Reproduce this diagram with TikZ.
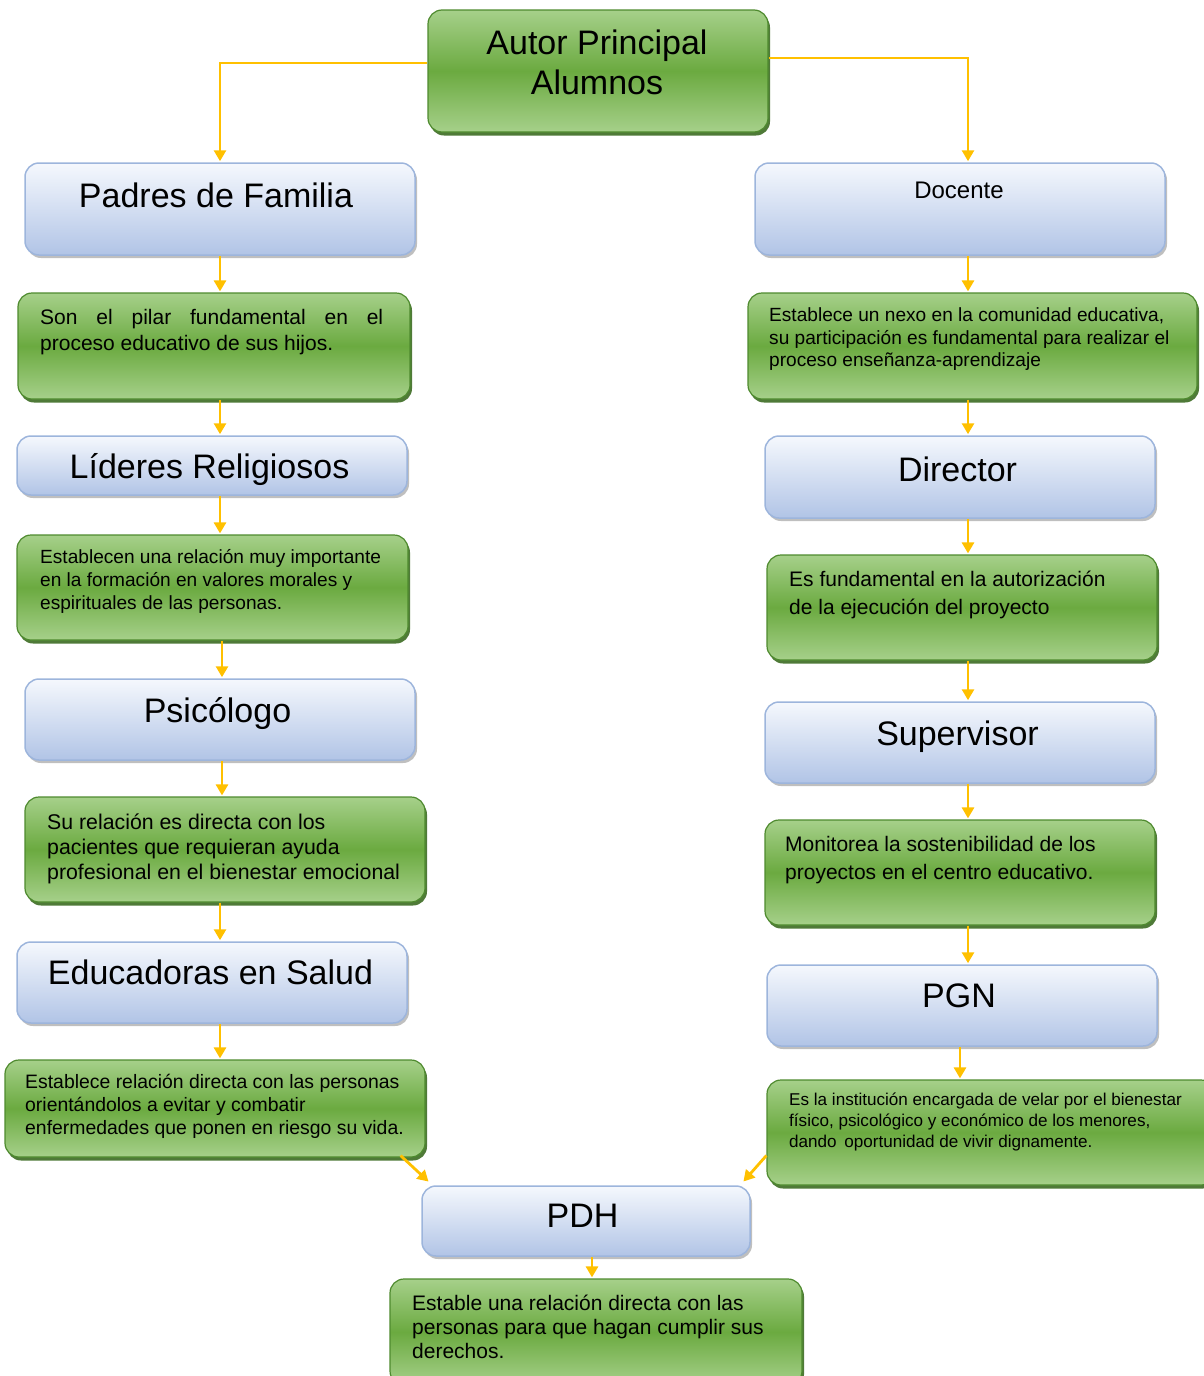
\documentclass[tikz,border=0pt]{standalone}
\usepackage{fontspec}
\setmainfont{Liberation Sans}
\usetikzlibrary{arrows.meta,shadows}
\definecolor{arrowc}{HTML}{FFC000}
\definecolor{bluetop}{HTML}{F5F8FD}
\definecolor{bluebot}{HTML}{B1C4E6}
\definecolor{blueline}{HTML}{9DB5DC}
\definecolor{greentop}{HTML}{A6D08A}
\definecolor{greenmid}{HTML}{6BAA40}
\definecolor{greenline}{HTML}{4E8A2E}
\definecolor{greenshadow}{HTML}{3C6B22}
\tikzset{
  bluebox/.style={rectangle, rounded corners=14pt, draw=blueline, line width=1.5pt,
    top color=bluetop, bottom color=bluebot,
    drop shadow={shadow xshift=2pt, shadow yshift=-3pt, fill=black, opacity=0.25}, inner sep=0pt},
  greenbox/.style={rectangle, rounded corners=14pt, draw=greenline, line width=1.2pt,
    top color=greentop, bottom color=greentop, middle color=greenmid,
    drop shadow={shadow xshift=2pt, shadow yshift=-3.5pt, fill=greenshadow, opacity=0.9}, inner sep=0pt},
  arr/.style={draw=arrowc, line width=2.8pt, -{Triangle[length=11pt,width=12pt]}, shorten >=1pt},
  big/.style={font=\fontsize{34}{40}\selectfont, text height=0.72em, text depth=0.2em, inner sep=0pt},
  body/.style={inner sep=0pt, anchor=north west, align=left},
}
\begin{document}
\begin{tikzpicture}[x=1pt,y=-1pt]
\useasboundingbox (0,0) rectangle (1204,1376);
\clip (0,0) rectangle (1204,1376);
\coordinate (lx) at (220,0);
\coordinate (rx) at (968,0);
% boxes
\node[greenbox, minimum width=340pt, minimum height=122pt] (autor) at (598,71) {};
\node[bluebox, minimum width=390pt, minimum height=92pt] (padres) at (220,209) {};
\node[greenbox, minimum width=392pt, minimum height=106pt] (pgreen) at (214,346) {};
\node[bluebox, minimum width=390pt, minimum height=59pt] (lideres) at (212,465.5) {};
\node[greenbox, minimum width=391pt, minimum height=105pt] (lgreen) at (212.5,587.5) {};
\node[bluebox, minimum width=390pt, minimum height=81pt] (psico) at (220,719.5) {};
\node[greenbox, minimum width=400pt, minimum height=105pt] (psgreen) at (225,849.5) {};
\node[bluebox, minimum width=390pt, minimum height=81pt] (educ) at (212,982.5) {};
\node[greenbox, minimum width=420pt, minimum height=97pt] (egreen) at (215,1108.5) {};
\node[bluebox, minimum width=410pt, minimum height=92pt] (docente) at (960,209) {};
\node[greenbox, minimum width=449pt, minimum height=106pt] (dgreen) at (972.5,346) {};
\node[bluebox, minimum width=390pt, minimum height=82pt] (director) at (960,477) {};
\node[greenbox, minimum width=390pt, minimum height=105pt] (drgreen) at (962,607.5) {};
\node[bluebox, minimum width=390pt, minimum height=81pt] (superv) at (960,742.5) {};
\node[greenbox, minimum width=390pt, minimum height=105pt] (sgreen) at (960,872.5) {};
\node[bluebox, minimum width=390pt, minimum height=81pt] (pgn) at (962,1005.5) {};
\node[greenbox, minimum width=448pt, minimum height=105pt] (pgngreen) at (991,1132.5) {};
\node[bluebox, minimum width=328pt, minimum height=70pt] (pdh) at (586,1221) {};
\node[greenbox, minimum width=412pt, minimum height=106pt] (pdhgreen) at (596,1332) {};
% titles
\node[font=\fontsize{34}{40}\selectfont, align=center, inner sep=0pt] (tautor) at (597,62) {Autor Principal\\Alumnos};
\node[big] (tpadres) at (216,205) {Padres de Familia};
\node[font=\fontsize{24}{28}\selectfont, text height=0.72em, text depth=0.2em, inner sep=0pt] (tdocente) at (959,196) {Docente};
\node[big] (tlideres) at (209.5,476) {Líderes Religiosos};
\node[big] (tdirector) at (957.5,479) {Director};
\node[big] (tpsico) at (217.5,720) {Psicólogo};
\node[big] (tsuperv) at (957.5,743) {Supervisor};
\node[big] (teduc) at (210.5,982) {Educadoras en Salud};
\node[big] (tpgn) at (959,1005) {PGN};
\node[big] (tpdh) at (582.5,1225) {PDH};
% body texts
\node[body, font=\fontsize{21}{26}\selectfont] (bpadres) at (40,309) {\makebox[343pt][s]{Son el pilar fundamental en el}\\proceso educativo de sus hijos.};
\node[body, font=\fontsize{19.1}{23}\selectfont] (blideres) at (40,549.5) {Establecen una relación muy importante\\en la formación en valores morales y\\espirituales de las personas.};
\node[body, font=\fontsize{21.3}{25}\selectfont] (bpsico) at (47,814) {Su relación es directa con los\\pacientes que requieran ayuda\\profesional en el bienestar emocional};
\node[body, font=\fontsize{19.4}{22.5}\selectfont] (beduc) at (25,1074.5) {Establece relación directa con las personas\\orientándolos a evitar y combatir\\enfermedades que ponen en riesgo su vida.};
\node[body, font=\fontsize{19.1}{22.5}\selectfont] (bdocente) at (769,307.5) {Establece un nexo en la comunidad educativa,\\su participación es fundamental para realizar el\\proceso enseñanza-aprendizaje};
\node[body, font=\fontsize{21}{28}\selectfont] (bdirector) at (789,571) {Es fundamental en la autorización\\de la ejecución del proyecto};
\node[body, font=\fontsize{21}{28}\selectfont] (bsuperv) at (785,836) {Monitorea la sostenibilidad de los\\proyectos en el centro educativo.};
\node[body, font=\fontsize{17.1}{21}\selectfont] (bpgn) at (789,1093) {Es la institución encargada de velar por el bienestar\\físico, psicológico y económico de los menores,\\dando\, oportunidad de vivir dignamente.};
\node[body, font=\fontsize{21}{24}\selectfont] (bpdh) at (412,1295) {Estable una relación directa con las\\personas para que hagan cumplir sus\\derechos.};
% connectors
\draw[arr] ([yshift=8pt]autor.west) -| (padres.north);
\draw[arr] ([yshift=13pt]autor.east) -| ([xshift=8pt]docente.north);
\draw[arr] (padres.south -| lx) -- (pgreen.north -| lx);
\draw[arr] (pgreen.south -| lx) -- (lideres.north -| lx);
\draw[arr] (lideres.south -| lx) -- (lgreen.north -| lx);
\draw[arr] ([xshift=9.5pt]lgreen.south) -- ([xshift=2pt]psico.north);
\draw[arr] ([xshift=2pt]psico.south) -- ([xshift=-3pt]psgreen.north);
\draw[arr] (psgreen.south -| lx) -- (educ.north -| lx);
\draw[arr] (educ.south -| lx) -- (egreen.north -| lx);
\draw[arr] (docente.south -| rx) -- (dgreen.north -| rx);
\draw[arr] (dgreen.south -| rx) -- (director.north -| rx);
\draw[arr] (director.south -| rx) -- (drgreen.north -| rx);
\draw[arr] (drgreen.south -| rx) -- (superv.north -| rx);
\draw[arr] (superv.south -| rx) -- (sgreen.north -| rx);
\draw[arr] (sgreen.south -| rx) -- (pgn.north -| rx);
\draw[arr] ([xshift=-2pt]pgn.south) -- ([xshift=-31pt]pgngreen.north);
\draw[arr] ([xshift=-25pt,yshift=2pt]egreen.south east) -- ([xshift=8pt,yshift=3pt]pdh.north west);
\draw[arr] ([yshift=-23pt]pgngreen.west) -- ([xshift=-8pt,yshift=3pt]pdh.north east);
\draw[arr] ([xshift=6pt]pdh.south) -- ([xshift=-4pt]pdhgreen.north);
\end{tikzpicture}
\end{document}
